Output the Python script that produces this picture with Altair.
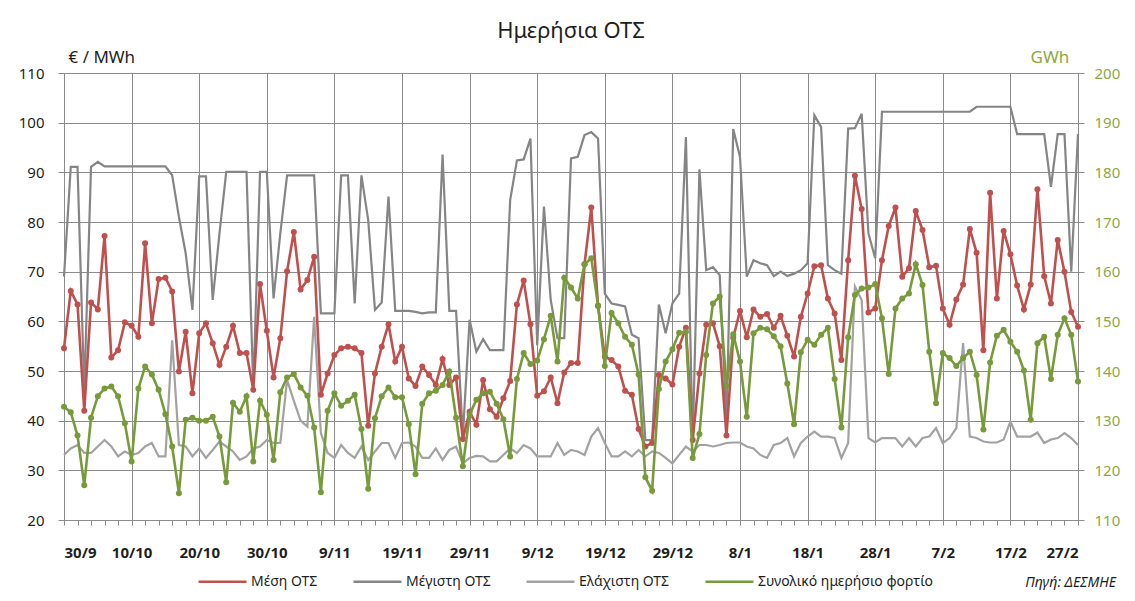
import json
import altair as alt
import pandas as pd

FONT = "Noto Sans"

date_labels = ["30/9", "10/10", "20/10", "30/10", "9/11", "19/11", "29/11", "9/12",
               "19/12", "29/12", "8/1", "18/1", "28/1", "7/2", "17/2", "27/2"]

series_names = ["Μέση ΟΤΣ", "Μέγιστη ΟΤΣ", "Ελάχιστη ΟΤΣ", "Συνολικό ημερήσιο φορτίο"]
series_colors = ["#C0504D", "#858585", "#A2A2A2", "#779A3A"]

# €/MWh, one value per day from 30/9 to 27/2
mesi = [54.6, 66.1, 63.4, 42.0, 63.8, 62.4, 77.2, 52.7, 54.2, 59.8,
        59.1, 56.9, 75.7, 59.6, 68.5, 68.8, 66.0, 49.9, 57.9, 45.5,
        57.6, 59.6, 55.6, 51.2, 54.9, 59.1, 53.6, 53.6, 46.2, 67.5,
        58.1, 48.7, 56.6, 70.1, 78.0, 66.4, 68.3, 73.0, 45.2, 49.5,
        53.2, 54.6, 54.9, 54.6, 53.6, 39.0, 49.5, 54.9, 59.4, 51.9,
        54.9, 48.5, 47.0, 50.9, 49.2, 47.2, 52.4, 47.2, 48.7, 36.3,
        41.8, 39.2, 48.2, 42.3, 40.8, 44.5, 48.0, 63.4, 68.2, 59.4,
        45.0, 45.9, 48.7, 43.5, 49.7, 51.6, 51.6, 71.5, 82.9, 63.1,
        52.9, 52.2, 50.9, 46.0, 45.2, 38.3, 34.8, 35.5, 49.2, 48.5,
        47.3, 54.9, 58.7, 36.1, 49.5, 59.3, 59.6, 55.0, 37.0, 56.7,
        62.1, 56.8, 62.4, 60.9, 61.5, 58.7, 61.1, 57.1, 52.9, 60.9,
        65.6, 71.1, 71.3, 64.6, 61.6, 52.2, 72.3, 89.3, 82.6, 61.8,
        62.6, 72.3, 79.2, 82.9, 69.0, 70.7, 82.2, 78.4, 70.9, 71.2,
        62.6, 59.3, 64.4, 67.4, 78.6, 73.8, 54.2, 85.9, 64.6, 78.2,
        73.5, 67.2, 62.4, 67.4, 86.6, 69.1, 63.6, 76.4, 70.0, 61.9,
        58.9]

megisti = [69.0, 91.1, 91.1, 46.0, 91.1, 92.1, 91.2, 91.2, 91.2, 91.2,
           91.2, 91.2, 91.2, 91.2, 91.2, 91.2, 89.4, 81.0, 73.7, 62.3,
           89.2, 89.2, 64.3, 77.7, 90.1, 90.1, 90.1, 90.1, 46.5, 90.1,
           90.1, 64.6, 77.7, 89.4, 89.4, 89.4, 89.4, 89.4, 61.6, 61.6,
           61.6, 89.4, 89.4, 63.6, 89.4, 80.4, 62.3, 63.8, 85.1, 62.1,
           62.1, 62.1, 61.9, 61.6, 61.8, 61.8, 93.6, 62.1, 62.1, 37.0,
           60.3, 53.9, 56.4, 54.2, 54.2, 54.2, 84.4, 92.4, 92.6, 96.8,
           55.2, 83.1, 64.3, 56.6, 56.6, 92.8, 93.1, 97.5, 98.1, 96.8,
           65.6, 63.6, 63.3, 63.0, 57.3, 56.6, 36.1, 36.1, 63.4, 57.6,
           63.6, 65.6, 97.1, 35.5, 90.6, 70.3, 70.9, 69.3, 39.5, 98.7,
           93.1, 69.0, 72.3, 71.7, 71.3, 69.1, 70.0, 69.1, 69.6, 70.3,
           71.7, 101.5, 99.1, 71.3, 70.3, 69.6, 98.8, 98.9, 101.8, 77.7,
           72.7, 102.2, 102.2, 102.2, 102.2, 102.2, 102.2, 102.2, 102.2, 102.2,
           102.2, 102.2, 102.2, 102.2, 102.2, 103.2, 103.2, 103.2, 103.2, 103.2,
           103.2, 97.7, 97.7, 97.7, 97.7, 97.7, 87.1, 97.7, 97.7, 70.0,
           97.7]

elaxisti = [33.1, 34.4, 35.1, 33.5, 33.5, 34.8, 36.1, 34.8, 32.8, 33.8,
            33.1, 33.5, 34.8, 35.5, 32.8, 32.8, 56.2, 35.1, 34.8, 32.8,
            34.4, 32.5, 34.1, 35.8, 34.8, 33.8, 32.1, 32.8, 34.4, 34.8,
            36.1, 35.5, 35.5, 48.2, 44.0, 40.0, 38.8, 60.9, 37.5, 33.5,
            32.5, 35.1, 33.5, 32.5, 34.8, 32.1, 33.8, 35.5, 35.5, 32.5,
            35.5, 35.6, 34.8, 32.5, 32.5, 34.4, 32.1, 34.1, 34.8, 31.4,
            32.5, 32.9, 32.8, 31.8, 31.8, 33.1, 34.4, 33.5, 35.1, 34.4,
            32.8, 32.8, 32.8, 35.5, 33.1, 34.1, 33.8, 33.1, 36.8, 38.5,
            35.5, 32.8, 32.8, 33.8, 32.8, 34.1, 32.8, 33.8, 33.5, 32.5,
            31.4, 33.1, 34.8, 33.8, 35.1, 35.1, 34.8, 35.1, 35.5, 35.6,
            35.6, 34.8, 34.4, 33.1, 32.5, 35.1, 35.5, 36.5, 32.8, 35.5,
            36.8, 37.8, 36.8, 36.8, 36.5, 32.5, 35.5, 67.0, 64.3, 36.5,
            35.6, 36.5, 36.5, 36.5, 34.8, 36.5, 34.8, 36.5, 36.8, 38.5,
            35.5, 36.5, 38.5, 55.6, 36.8, 36.5, 35.8, 35.6, 35.6, 36.2,
            39.8, 36.8, 36.8, 36.8, 37.6, 35.5, 36.2, 36.5, 37.5, 36.5,
            35.1]

# GWh
fortio = [132.8, 131.7, 127.0, 117.0, 130.6, 134.9, 136.5, 136.9, 134.9, 129.5,
          121.8, 136.5, 140.9, 139.3, 136.2, 131.3, 124.8, 115.4, 130.2, 130.6,
          130.0, 130.0, 130.8, 126.8, 117.6, 133.6, 131.8, 134.9, 121.8, 134.0,
          131.2, 122.1, 135.7, 138.7, 139.4, 136.7, 135.0, 128.6, 115.6, 132.0,
          135.5, 133.0, 134.0, 135.2, 128.3, 116.3, 130.5, 134.9, 136.7, 134.7,
          134.7, 129.3, 119.2, 133.4, 135.5, 136.0, 137.2, 139.9, 130.6, 120.8,
          131.2, 134.2, 135.5, 135.8, 133.4, 130.3, 122.8, 138.4, 143.6, 141.4,
          142.1, 146.4, 151.1, 141.9, 158.8, 156.8, 154.6, 161.5, 162.7, 153.2,
          141.0, 151.7, 149.6, 146.9, 145.3, 139.3, 118.6, 115.9, 136.4, 141.9,
          144.4, 147.7, 147.9, 122.5, 127.3, 143.2, 153.6, 155.0, 137.0, 147.4,
          141.9, 130.8, 147.6, 148.7, 148.4, 147.0, 145.0, 137.5, 129.3, 143.8,
          146.3, 145.3, 147.3, 148.7, 138.4, 128.6, 146.8, 155.3, 156.6, 156.8,
          157.5, 150.6, 139.4, 152.6, 154.6, 155.6, 161.5, 157.3, 143.9, 133.5,
          143.6, 142.6, 141.0, 142.6, 143.9, 139.2, 128.2, 141.7, 147.1, 148.3,
          145.9, 143.9, 140.1, 130.2, 145.6, 146.9, 138.4, 147.3, 150.6, 147.3,
          137.9]

source_note = ["Πηγή: ΔΕΣΜΗΕ"]

n = len(mesi)
days = list(range(n))

df_gray = pd.DataFrame({
    "day": days + days,
    "value": megisti + elaxisti,
    "series": [series_names[1]] * n + [series_names[2]] * n,
})
df_red = pd.DataFrame({"day": days, "value": mesi, "series": [series_names[0]] * n})
df_green = pd.DataFrame({"day": days, "gwh": fortio, "series": [series_names[3]] * n})
df_note = pd.DataFrame({"t": source_note})

GRID = "#8C8C8C"
OLIVE = "#8FA83E"
INK = "#1F1F1F"

label_js = json.dumps(date_labels, ensure_ascii=False)
x_enc = alt.X(
    "day:Q",
    scale=alt.Scale(domain=[0, n - 1], nice=False, zero=False),
    axis=alt.Axis(
        values=list(range(0, n, 2)),
        labelExpr=f"datum.value % 10 == 0 ? {label_js}[datum.value / 10] : ''",
        title=None,
        grid=True,
        gridColor=GRID,
        gridOpacity={"condition": {"test": "datum.value % 10 == 0", "value": 1}, "value": 0},
        domainColor=GRID,
        tickColor=GRID,
        tickSize=5,
        labelPadding=20,
        labelFont=FONT,
        labelFontSize=15,
        labelFontWeight="bold",
        labelColor=INK,
        labelOverlap=False,
    ),
)

y_left = alt.Y(
    "value:Q",
    scale=alt.Scale(domain=[20, 110], nice=False, zero=False),
    axis=alt.Axis(
        values=list(range(20, 111, 10)),
        title="€ / MWh",
        titleAngle=0,
        titleX=4,
        titleY=-11,
        titleAlign="left",
        titleBaseline="alphabetic",
        titleFont=FONT,
        titleFontSize=17,
        titleFontWeight="normal",
        titleColor=INK,
        grid=True,
        gridColor=GRID,
        domainColor=GRID,
        tickColor=GRID,
        tickSize=6,
        labelPadding=14,
        labelFont=FONT,
        labelFontSize=15,
        labelColor=INK,
    ),
)

y_right = alt.Y(
    "gwh:Q",
    scale=alt.Scale(domain=[110, 200], nice=False, zero=False),
    axis=alt.Axis(
        orient="right",
        values=list(range(110, 201, 10)),
        title="GWh",
        titleAngle=0,
        titleX=-48,
        titleY=-11,
        titleAlign="left",
        titleBaseline="alphabetic",
        titleFont=FONT,
        titleFontSize=17,
        titleFontWeight="normal",
        titleColor=OLIVE,
        grid=False,
        domainColor=GRID,
        tickColor=GRID,
        tickSize=6,
        labelPadding=10,
        labelFont=FONT,
        labelFontSize=15,
        labelColor=OLIVE,
    ),
)

color_enc = alt.Color(
    "series:N",
    scale=alt.Scale(domain=series_names, range=series_colors),
    legend=alt.Legend(
        title=None,
        orient="none",
        legendX=133,
        legendY=483,
        direction="horizontal",
        columns=4,
        padding=0,
        symbolType="stroke",
        symbolSize=2300,
        symbolStrokeWidth=2.5,
        labelFont=FONT,
        labelFontSize=14,
        labelColor=INK,
        labelOffset=3,
        labelLimit=400,
        columnPadding=30,
    ),
)

gray = alt.Chart(df_gray).mark_line(strokeWidth=2.2).encode(
    x=x_enc, y=y_left, color=color_enc, detail="series:N"
)
red = alt.Chart(df_red).mark_line(
    strokeWidth=2.6, point=alt.OverlayMarkDef(filled=True, size=36)
).encode(x=x_enc, y=y_left, color=color_enc)

left = alt.layer(gray, red)

green = alt.Chart(df_green).mark_line(
    strokeWidth=2.6, point=alt.OverlayMarkDef(filled=True, size=36)
).encode(x=x_enc, y=y_right, color=color_enc)

note = alt.Chart(df_note).mark_text(
    font=FONT, fontSize=14, fontStyle="italic", align="right", baseline="middle", color=INK
).encode(text="t:N", x=alt.value(1052), y=alt.value(510))

chart = alt.layer(left, green).resolve_scale(y="independent")
chart = alt.layer(chart, note).properties(
    width=1014,
    height=447,
    padding={"left": 56, "top": 65, "right": 49, "bottom": 70},
    autosize=alt.AutoSizeParams(type="none"),
    title=alt.TitleParams(
        "Ημερήσια ΟΤΣ", font=FONT, fontSize=22, fontWeight="normal",
        color=INK, anchor="middle", frame="group", offset=5,
    ),
).configure_view(stroke=None).configure(background="white")

chart.save("out.html", embed_options={"renderer": "svg", "actions": False})
